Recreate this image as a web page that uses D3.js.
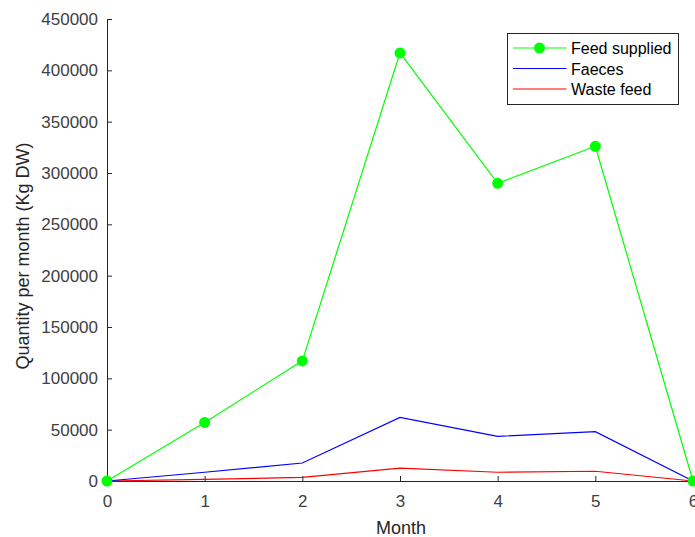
<!DOCTYPE html>
<html>
<head>
<meta charset="utf-8">
<script src="https://cdn.jsdelivr.net/npm/d3@7"></script>
<style>
body { margin: 0; background: #fff; }
svg { font-family: "Liberation Sans", Arial, sans-serif; }
</style>
</head>
<body>
<script>
const months = [0, 1, 2, 3, 4, 5, 6]
const feedSupplied = [0, 57000, 117000, 417000, 290000, 326000, 0]
const faeces = [0, 8500, 17500, 62000, 43500, 48000, 0]
const wasteFeed = [0, 1500, 3500, 12500, 8500, 9500, 0]
const yTicks = [0, 50000, 100000, 150000, 200000, 250000, 300000, 350000, 400000, 450000]

const margin = { top: 19, right: 2, bottom: 56, left: 107 },
  width = 695 - margin.left - margin.right,
  height = 537 - margin.top - margin.bottom;

const svg = d3.select('body').append('svg')
  .attr('width', 695).attr('height', 537)

const g = svg.append('g')
  .attr('transform', 'translate(' + margin.left + ',' + margin.top + ')')

const x = d3.scaleLinear().domain([0, 6]).range([0, width])
const y = d3.scaleLinear().domain([0, 450000]).range([height, 0])

// axes, MATLAB style: ticks pointing inwards
const xAxis = g.append('g')
  .attr('transform', 'translate(0,' + height + ')')
  .call(d3.axisBottom(x).tickValues(months).tickFormat(d3.format('d')).tickSize(-5).tickPadding(14).tickSizeOuter(0))
const yAxis = g.append('g')
  .call(d3.axisLeft(y).tickValues(yTicks).tickFormat(d3.format('d')).tickSize(-5).tickPadding(9).tickSizeOuter(0))

;[xAxis, yAxis].forEach(a => {
  a.select('.domain').attr('stroke', '#262626')
  a.selectAll('.tick line').attr('stroke', '#262626')
  a.selectAll('.tick text').attr('fill', '#404040').style('font-size', '17px')
})

// labels
svg.append('text')
  .attr('x', margin.left + width / 2 + 1).attr('y', 534)
  .attr('text-anchor', 'middle').attr('fill', '#262626')
  .style('font-size', '18px').text('Month')
svg.append('text')
  .attr('transform', 'translate(29,' + (margin.top + height / 2 + 6) + ') rotate(-90)')
  .attr('text-anchor', 'middle').attr('fill', '#262626')
  .style('font-size', '18px').text('Quantity per month (Kg DW)')

const line = d3.line().x((d, i) => x(months[i])).y(d => y(d))

const series = [
  { name: 'Waste feed', values: wasteFeed, color: '#ff0000', marker: false },
  { name: 'Faeces', values: faeces, color: '#0000ff', marker: false },
  { name: 'Feed supplied', values: feedSupplied, color: '#00ff00', marker: true }
]

series.forEach(s => {
  g.append('path')
    .datum(s.values)
    .attr('d', line)
    .attr('fill', 'none')
    .attr('stroke', s.color)
    .attr('stroke-width', 1.2)
  if (s.marker) {
    g.selectAll('.pt')
      .data(s.values)
      .enter().append('circle')
      .attr('cx', (d, i) => x(months[i]))
      .attr('cy', d => y(d))
      .attr('r', 5.5)
      .attr('fill', s.color)
  }
})

// legend
const legend = svg.append('g').attr('transform', 'translate(507.5,33.5)')
legend.append('rect')
  .attr('width', 171).attr('height', 71)
  .attr('fill', '#fff').attr('stroke', '#262626').attr('stroke-width', 1)
const legendItems = series.slice().reverse()
legendItems.forEach((s, i) => {
  const ly = 14.5 + i * 20.5
  legend.append('line')
    .attr('x1', 5.5).attr('x2', 59).attr('y1', ly).attr('y2', ly)
    .attr('stroke', s.color).attr('stroke-width', 1.2)
  if (s.marker) {
    legend.append('circle').attr('cx', 32).attr('cy', ly).attr('r', 5.5).attr('fill', s.color)
  }
  legend.append('text')
    .attr('x', 63.5).attr('y', ly + 6)
    .attr('fill', '#000').style('font-size', '16px')
    .text(s.name)
})
</script>
</body>
</html>
